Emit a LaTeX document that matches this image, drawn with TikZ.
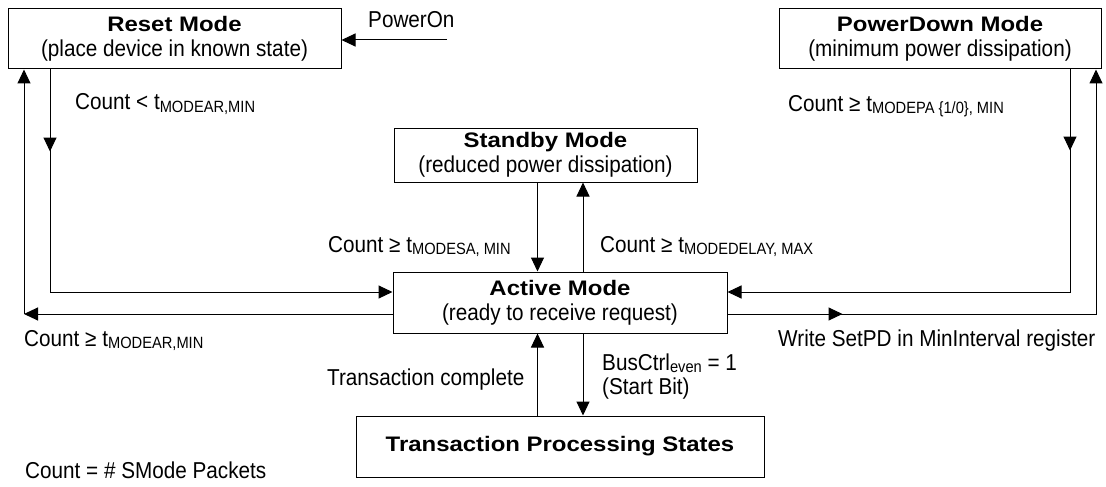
\documentclass[tikz,border=0pt]{standalone}
\usepackage{fontspec}
\usetikzlibrary{arrows.meta,decorations.markings}
\newfontfamily\rf[FakeStretch=0.9]{Liberation Sans}
\newfontfamily\tf[FakeStretch=1.14]{Liberation Sans}
\newcommand{\lsub}[1]{\raisebox{-2pt}{\fontsize{16.3}{18}\selectfont #1}}
\newcommand{\ttl}[1]{{\tf\bfseries\fontsize{21}{25}\selectfont #1}}
\begin{document}
\begin{tikzpicture}[x=1pt,y=-1pt,
  tri/.style={Triangle[length=14pt,width=13pt]},
  box/.style={draw,line width=1pt,inner sep=0pt,align=center,
    font=\rf\fontsize{23}{25}\selectfont},
  conn/.style={line width=1pt,-{Triangle[length=14pt,width=13pt]}},
  plain/.style={line width=1pt},
  lbl/.style={anchor=base west,inner sep=0pt,font=\rf\fontsize{23}{25}\selectfont},
  midarrow/.style={postaction={decorate},decoration={markings,
    mark=at position #1 with {\arrow{Triangle[length=14pt,width=13pt]}}}}
]
\useasboundingbox (0,0) rectangle (1106,487);
% boxes
\node[box,minimum width=333pt,minimum height=60pt] (reset) at (174.5,39)
  {\ttl{Reset Mode}\\(place device in known state)};
\node[box,minimum width=322pt,minimum height=60pt] (pd) at (940,39)
  {\ttl{PowerDown Mode}\\(minimum power dissipation)};
\node[box,minimum width=303pt,minimum height=54pt] (sb) at (545.5,155)
  {\ttl{Standby Mode}\\(reduced power dissipation)};
\node[box,minimum width=334pt,minimum height=61pt] (act) at (560,302.5)
  {\ttl{Active Mode}\\(ready to receive request)};
\node[box,minimum width=408pt,minimum height=61pt] (tps) at (560,446.5)
  {\ttl{Transaction Processing States}};
% helper coordinates
\coordinate (pon) at (447,40);
\coordinate (L1) at (50,292);
\coordinate (O1) at (24,314);
\coordinate (R1) at (1070,292);
\coordinate (R2) at (1096,314);
\coordinate (xa) at (537.5,0);
\coordinate (xb) at (583,0);
% connectors
\draw[conn] (pon) -- (reset.east |- pon);
\draw[conn,midarrow=82pt] (reset.south -| L1) -- (L1) -- (L1 -| act.west);
\draw[conn] (act.west |- O1) -- (O1);
\draw[conn] (O1) -- (reset.south -| O1);
\draw[conn,midarrow=81pt] (pd.south -| R1) -- (R1) -- (R1 -| act.east);
\draw[conn,midarrow=115pt] (act.east |- R2) -- (R2) -- (pd.south -| R2);
\draw[conn] (sb.south -| xa) -- (act.north -| xa);
\draw[conn] (act.north -| xb) -- (sb.south -| xb);
\draw[conn] (act.south -| xb) -- (tps.north -| xb);
\draw[conn] (tps.north -| xa) -- (act.south -| xa);
% labels
\node[lbl] (l0) at (368,28) {PowerOn};
\node[lbl] (l1) at (75,110) {Count < t\lsub{MODEAR,MIN}};
\node[lbl] (l2) at (788,111) {Count ≥ t\lsub{MODEPA \{1/0\}, MIN}};
\node[lbl] (l3) at (328,252) {Count ≥ t\lsub{MODESA, MIN}};
\node[lbl] (l4) at (600,252) {Count ≥ t\lsub{MODEDELAY, MAX}};
\node[lbl] (l5) at (24,346) {Count ≥ t\lsub{MODEAR,MIN}};
\node[lbl] (l6) at (778,346) {Write SetPD in MinInterval register};
\node[lbl] (l7) at (327,385) {Transaction complete};
\node[lbl] (l8) at (602,370) {BusCtrl\lsub{even} = 1};
\node[lbl] (l9) at (602,394) {(Start Bit)};
\node[lbl] (l10) at (25,478) {Count = \# SMode Packets};
\end{tikzpicture}
\end{document}
